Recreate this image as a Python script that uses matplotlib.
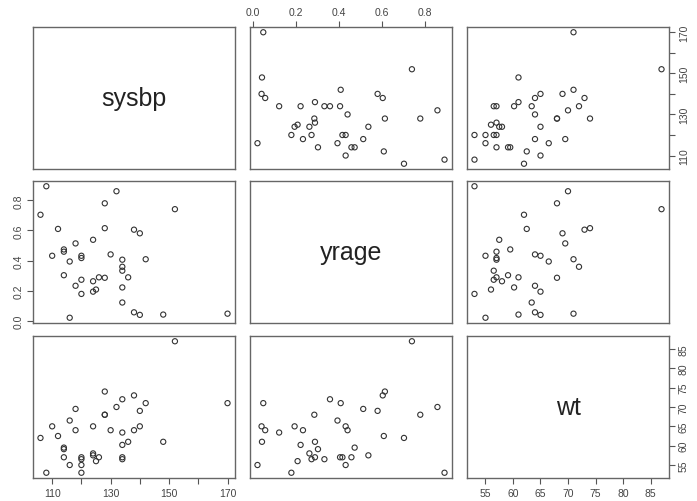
import matplotlib
matplotlib.use("Agg")
import matplotlib.pyplot as plt

plt.rcParams['font.family'] = ['Liberation Sans', 'DejaVu Sans']

# Peru data: systolic blood pressure, fraction of life in town, weight
sysbp = [170, 120, 125, 148, 140, 106, 120, 108, 124, 134, 116, 114, 130,
         118, 138, 134, 120, 120, 114, 124, 114, 136, 126, 124, 128, 134,
         112, 128, 134, 128, 140, 138, 118, 110, 142, 134, 116, 132, 152]
yrage = [0.048, 0.273, 0.208, 0.042, 0.040, 0.704, 0.179, 0.893, 0.194,
         0.406, 0.394, 0.303, 0.441, 0.514, 0.057, 0.333, 0.417, 0.432,
         0.459, 0.263, 0.474, 0.289, 0.289, 0.538, 0.615, 0.359, 0.610,
         0.780, 0.122, 0.286, 0.581, 0.605, 0.233, 0.432, 0.409, 0.222,
         0.021, 0.860, 0.741]
wt = [71, 56.5, 56, 61, 65, 62, 53, 53, 65, 57, 66.5, 59.1, 64, 69.5, 64,
      56.5, 57, 55, 57, 58, 59.5, 61, 57, 57.5, 74, 72, 62.5, 68, 63.4, 68,
      69, 73, 64, 65, 71, 60.2, 55, 70, 87]

names = ['sysbp', 'yrage', 'wt']
data = [sysbp, yrage, wt]
ticks = [[110, 120, 130, 140, 150, 160, 170],
         [0.0, 0.2, 0.4, 0.6, 0.8],
         [55, 60, 65, 70, 75, 80, 85]]
ticklabels = [['110', '', '130', '', '150', '', '170'],
              ['0.0', '0.2', '0.4', '0.6', '0.8'],
              ['55', '60', '65', '70', '75', '80', '85']]

W, H = 697, 502
fig = plt.figure(figsize=(W / 100, H / 100), dpi=100)

col_left = [33, 250, 467]
row_top = [28, 182, 337]
pw, ph = 202, 142
edge = '#666666'


def lims(v):
    lo, hi = min(v), max(v)
    d = (hi - lo) * 0.04
    return lo - d, hi + d


for i in range(3):
    for j in range(3):
        ax = fig.add_axes([col_left[j] / W, 1 - (row_top[i] + ph) / H, pw / W, ph / H])
        ax.set_xlim(lims(data[j]))
        ax.set_ylim(lims(data[i]))
        for s in ax.spines.values():
            s.set_color(edge)
            s.set_linewidth(1.0)
        ax.set_xticks([])
        ax.set_yticks([])
        if i == j:
            ax.text(0.5, 0.5, names[i], transform=ax.transAxes, ha='center',
                    va='center', fontsize=18, color='#222222')
        else:
            ax.scatter(data[j], data[i], s=14, facecolors='none',
                       edgecolors='#333333', linewidths=0.8)
        tp = dict(direction='out', length=4, width=0.8, colors='#555555',
                  labelsize=7.5, labelcolor='#444444', pad=3)
        # x axes: top of first row for middle col, bottom of last row for cols 0 and 2
        if i == 0 and j == 1:
            ax.xaxis.tick_top()
            ax.set_xticks(ticks[j], ticklabels[j])
            ax.tick_params(axis='x', **tp)
        if i == 2 and j in (0, 2):
            ax.set_xticks(ticks[j], ticklabels[j])
            ax.tick_params(axis='x', **tp)
        # y axes: right side for rows 0 and 2, left for middle row
        if j == 2 and i in (0, 2):
            ax.yaxis.tick_right()
            ax.set_yticks(ticks[i], ticklabels[i])
            ax.tick_params(axis='y', **tp)
            for lab in ax.get_yticklabels():
                lab.set_rotation(90)
                lab.set_va('center')
        if j == 0 and i == 1:
            ax.set_yticks(ticks[i], ticklabels[i])
            ax.tick_params(axis='y', **tp)
            for lab in ax.get_yticklabels():
                lab.set_rotation(90)
                lab.set_va('center')

fig.savefig('out.png', dpi=100)
